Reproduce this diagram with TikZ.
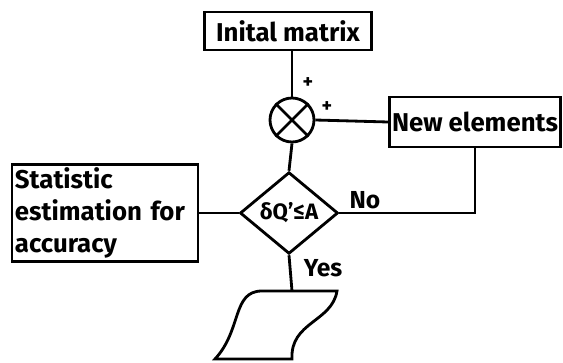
\documentclass[tikz,border=0pt]{standalone}
\usepackage{fontspec}
\setmainfont{Fira Sans}
\usetikzlibrary{shapes.geometric, positioning, calc}

\begin{document}
\begin{tikzpicture}[
    x=0.03cm, y=-0.03cm,
    line width=2.4pt,
    fbox/.style={rectangle, draw, inner sep=2pt, font=\fontsize{22}{27}\selectfont\bfseries},
    lbl/.style={font=\fontsize{21}{24}\selectfont\bfseries, inner sep=0pt},
    wire/.style={line width=2.4pt}
  ]
  \useasboundingbox (0,0) rectangle (563,362);

  \node[fbox, minimum width=5.0cm, minimum height=1.14cm] (init) at (288,31) {Inital matrix};
  \node[circle, draw, minimum size=1.32cm, inner sep=0pt] (sum) at (292,120) {};
  \draw[wire] (sum.45) -- (sum.225);
  \draw[wire] (sum.135) -- (sum.315);
  \node[fbox, minimum width=4.98cm, minimum height=1.5cm] (newel) at (475,122) {New elements};
  \node[fbox, minimum width=5.58cm, minimum height=2.9cm, align=left, text width=5.4cm] (stat) at (105,213)
    {Statistic\\estimation for\\accuracy};
  \node[diamond, draw, inner sep=0pt, minimum width=2.94cm, minimum height=2.45cm,
    font=\fontsize{19}{22}\selectfont\bfseries] (cond) at (289,213) {δQ'≤A};
  \coordinate (doctop) at (292,291);

  % document
  \draw (215,359) .. controls (242,330) and (232,291) .. (262,291) -- (337,291)
    .. controls (332,322) and (290,322) .. (292,359) -- cycle;

  \draw[wire] (sum.north |- init.south) -- (sum.north);
  \draw[wire] (newel.west) -- (sum.east);
  \draw[wire] (sum.south) -- (cond.north);
  \draw[wire] (stat.east) -- (cond.west);
  \draw[wire] (newel.south) -- (newel.south |- cond.east) -- (cond.east);
  \draw[wire] (cond.south) -- (doctop);

  \node[lbl, font=\fontsize{17}{20}\selectfont\bfseries] (plusa) at (308,83) {+};
  \node[lbl, font=\fontsize{17}{20}\selectfont\bfseries] (plusb) at (327,107) {+};
  \node[lbl] (no) at (365,200) {No};
  \node[lbl] (yes) at (323,268) {Yes};
\end{tikzpicture}
\end{document}
